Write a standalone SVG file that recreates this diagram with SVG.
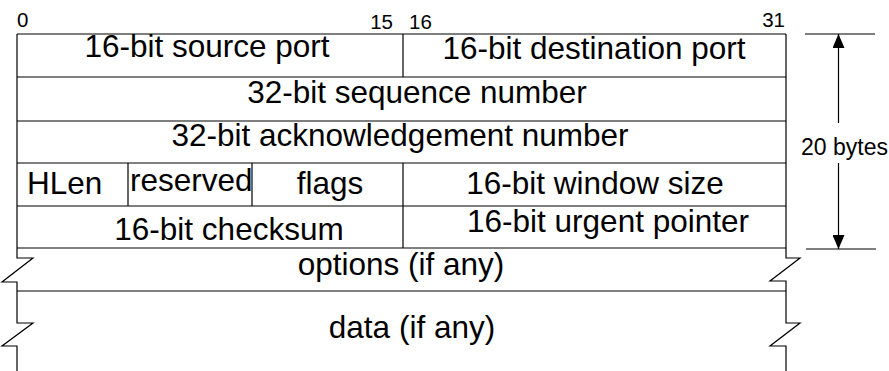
<svg xmlns="http://www.w3.org/2000/svg" width="889" height="371" viewBox="0 0 889 371">
<style>
  .ln { stroke:#000; stroke-width:1.2; fill:none; }
  .t { font-family:"Liberation Sans", Arial, sans-serif; font-size:31.5px; fill:#000; }
  .c { text-anchor:middle; }
  .n { font-family:"Liberation Sans", Arial, sans-serif; font-size:20.5px; fill:#000; }
  .s { font-family:"Liberation Sans", Arial, sans-serif; font-size:23px; fill:#000; }
</style>
<defs>
  <marker id="ah" viewBox="0 0 14 12" refX="14" refY="6" markerWidth="14" markerHeight="12" markerUnits="userSpaceOnUse" orient="auto">
    <path d="M0,0 L14,6 L0,12 Z" fill="#000"/>
  </marker>
</defs>
<rect width="889" height="371" fill="#fff"/>

<g id="bit-numbers">
  <text class="n" x="17" y="27">0</text>
  <text class="n" x="393" y="29" text-anchor="end">15</text>
  <text class="n" x="409" y="29">16</text>
  <text class="n" x="785" y="27" text-anchor="end">31</text>
</g>

<g id="frame">
  <line class="ln" x1="17" y1="34" x2="786" y2="34"/>
  <line class="ln" x1="17" y1="34" x2="17" y2="248"/>
  <line class="ln" x1="786" y1="34" x2="786" y2="248"/>
</g>

<g id="source-port">
  <line class="ln" x1="403" y1="34" x2="403" y2="77"/>
  <text class="t c" x="207" y="57">16-bit source port</text>
</g>
<g id="destination-port">
  <text class="t c" x="594" y="59">16-bit destination port</text>
</g>
<g id="sequence-number">
  <line class="ln" x1="17" y1="77" x2="786" y2="77"/>
  <text class="t c" x="417" y="103">32-bit sequence number</text>
</g>
<g id="ack-number">
  <line class="ln" x1="17" y1="121" x2="786" y2="121"/>
  <text class="t c" x="400" y="146">32-bit acknowledgement number</text>
</g>
<g id="hlen">
  <line class="ln" x1="17" y1="163" x2="786" y2="163"/>
  <line class="ln" x1="128" y1="163" x2="128" y2="206"/>
  <text class="t" x="27" y="194">HLen</text>
</g>
<g id="reserved">
  <line class="ln" x1="252" y1="163" x2="252" y2="206"/>
  <text class="t" x="130" y="191">reserved</text>
</g>
<g id="flags">
  <line class="ln" x1="403" y1="163" x2="403" y2="248"/>
  <text class="t c" x="330" y="194">flags</text>
</g>
<g id="window-size">
  <text class="t c" x="595" y="194">16-bit window size</text>
</g>
<g id="checksum">
  <line class="ln" x1="17" y1="206" x2="786" y2="206"/>
  <text class="t c" x="229" y="240">16-bit checksum</text>
</g>
<g id="urgent-pointer">
  <text class="t c" x="608" y="232">16-bit urgent pointer</text>
</g>
<g id="options">
  <line class="ln" x1="17" y1="248" x2="786" y2="248"/>
  <path class="ln" d="M17,248 V258 L33,258 L2,282 H17 V291"/>
  <path class="ln" d="M786,248 V258 L800,258 L770,281 H786 V291"/>
  <text class="t c" x="401" y="275">options (if any)</text>
</g>
<g id="data">
  <line class="ln" x1="17" y1="291" x2="786" y2="291"/>
  <path class="ln" d="M17,291 V323 L33,323 L2,346 H17 V371"/>
  <path class="ln" d="M786,291 V323 L800,323 L770,346 H786 V371"/>
  <text class="t c" x="412" y="338">data (if any)</text>
</g>

<g id="connectors">
  <line class="ln" x1="805" y1="34" x2="875" y2="34"/>
  <line class="ln" x1="806" y1="249" x2="876" y2="249"/>
  <line class="ln" x1="838.5" y1="123" x2="838.5" y2="34" marker-end="url(#ah)"/>
  <line class="ln" x1="838.5" y1="163" x2="838.5" y2="249" marker-end="url(#ah)"/>
</g>
<g id="size-label">
  <text class="s" x="801" y="155">20 bytes</text>
</g>
</svg>
